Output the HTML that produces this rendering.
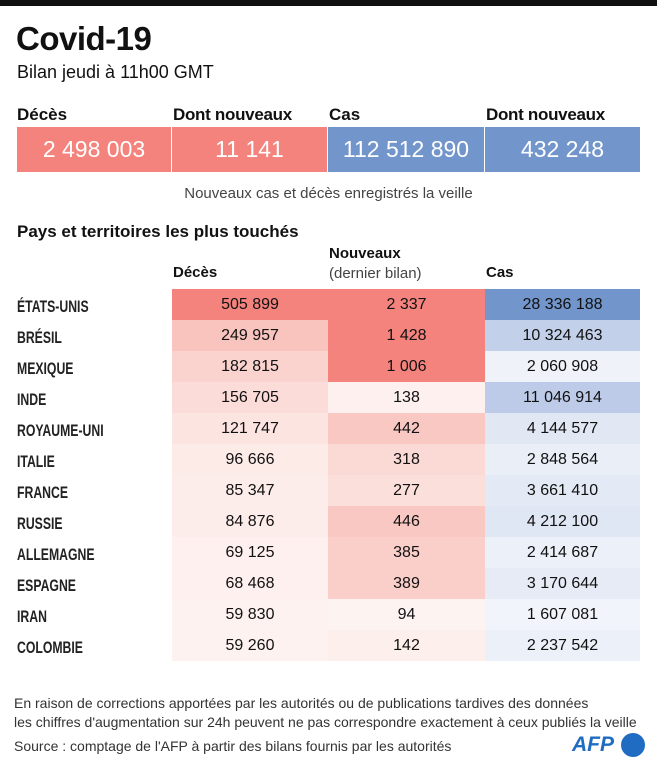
<!DOCTYPE html>
<html><head><meta charset="utf-8"><style>
*{margin:0;padding:0;box-sizing:border-box}
body{width:657px;height:768px;background:#fff;position:relative;overflow:hidden;font-family:"Liberation Sans",sans-serif;color:#111}
.a{position:absolute;white-space:nowrap}
.c{position:absolute;display:flex;align-items:center;justify-content:center;font-size:16px}
.n{position:absolute;left:17px;font-size:17px;font-weight:bold;display:flex;align-items:center;height:31px;transform:scaleX(0.72);transform-origin:left center;white-space:nowrap;color:#222}
</style></head><body>
<div class="a" style="left:0;top:0;width:657px;height:6px;background:#111"></div>
<div class="a" style="left:16px;top:20px;font-size:33px;font-weight:bold;letter-spacing:-0.5px">Covid-19</div>
<div class="a" style="left:17px;top:62px;font-size:18px">Bilan jeudi à 11h00 GMT</div>
<div class="a" style="left:17px;top:105px;font-size:17px;font-weight:bold">Décès</div>
<div class="a" style="left:173px;top:105px;font-size:17px;font-weight:bold;letter-spacing:-0.3px">Dont nouveaux</div>
<div class="a" style="left:329px;top:105px;font-size:17px;font-weight:bold">Cas</div>
<div class="a" style="left:486px;top:105px;font-size:17px;font-weight:bold;letter-spacing:-0.3px">Dont nouveaux</div>
<div class="c" style="left:17px;top:127px;width:154px;height:45px;background:#f4837d;color:#fff;font-size:23px">2 498 003</div>
<div class="c" style="left:172px;top:127px;width:155px;height:45px;background:#f4837d;color:#fff;font-size:23px">11 141</div>
<div class="c" style="left:328px;top:127px;width:156px;height:45px;background:#7296cb;color:#fff;font-size:23px">112 512 890</div>
<div class="c" style="left:485px;top:127px;width:155px;height:45px;background:#7296cb;color:#fff;font-size:23px">432 248</div>
<div class="a" style="left:0;width:657px;text-align:center;top:185px;font-size:15px;color:#444">Nouveaux cas et décès enregistrés la veille</div>
<div class="a" style="left:17px;top:222px;font-size:17px;font-weight:bold">Pays et territoires les plus touchés</div>
<div class="a" style="left:173px;top:264px;font-size:15px;font-weight:bold">Décès</div>
<div class="a" style="left:329px;top:245px;font-size:15px;font-weight:bold">Nouveaux</div>
<div class="a" style="left:329px;top:265px;font-size:15px;color:#444">(dernier bilan)</div>
<div class="a" style="left:486px;top:264px;font-size:15px;font-weight:bold">Cas</div>
<div id="t"></div>
<div class="a" style="left:14px;top:694px;font-size:14px;color:#333;line-height:19px">En raison de corrections apportées par les autorités ou de publications tardives des données<br>les chiffres d'augmentation sur 24h peuvent ne pas correspondre exactement à ceux publiés la veille</div>
<div class="a" style="left:14px;top:738px;font-size:14px;color:#333">Source : comptage de l'AFP à partir des bilans fournis par les autorités</div>
<div class="a" style="left:572px;top:733px;font-size:21px;font-weight:bold;font-style:italic;color:#1f6cc2">AFP</div>
<div class="a" style="left:621px;top:733px;width:24px;height:24px;border-radius:50%;background:#1f6cc2"></div>
<script>
var d=[["ÉTATS-UNIS","505 899","#f4837d","2 337","#f4837d","28 336 188","#7296cb"],
["BRÉSIL","249 957","#f9c3be","1 428","#f4837d","10 324 463","#c2d0ea"],
["MEXIQUE","182 815","#fad3cf","1 006","#f4837d","2 060 908","#eff2f9"],
["INDE","156 705","#fbdcd8","138","#fdf0ee","11 046 914","#bdcbe8"],
["ROYAUME-UNI","121 747","#fce4e1","442","#f9c8c3","4 144 577","#e1e8f4"],
["ITALIE","96 666","#fdebe8","318","#fbd9d5","2 848 564","#e9eef7"],
["FRANCE","85 347","#fdedea","277","#fbdfdb","3 661 410","#e4eaf5"],
["RUSSIE","84 876","#fdedea","446","#f9c8c3","4 212 100","#e0e7f4"],
["ALLEMAGNE","69 125","#fdf0ee","385","#facfca","2 414 687","#ecf0f8"],
["ESPAGNE","68 468","#fdf0ee","389","#facfca","3 170 644","#e6ebf6"],
["IRAN","59 830","#fef2f0","94","#fdf3f1","1 607 081","#f1f4fa"],
["COLOMBIE","59 260","#fef2f0","142","#fdefec","2 237 542","#ecf0f8"]];
var h="";d.forEach(function(r,i){var y=289+i*31;
h+='<div class="n" style="top:'+(y+2)+'px">'+r[0]+'</div>';
h+='<div class="c" style="left:172px;top:'+y+'px;width:156px;height:31px;background:'+r[2]+'">'+r[1]+'</div>';
h+='<div class="c" style="left:328px;top:'+y+'px;width:157px;height:31px;background:'+r[4]+'">'+r[3]+'</div>';
h+='<div class="c" style="left:485px;top:'+y+'px;width:155px;height:31px;background:'+r[6]+'">'+r[5]+'</div>';});
document.getElementById("t").innerHTML=h;
</script>
</body></html>
